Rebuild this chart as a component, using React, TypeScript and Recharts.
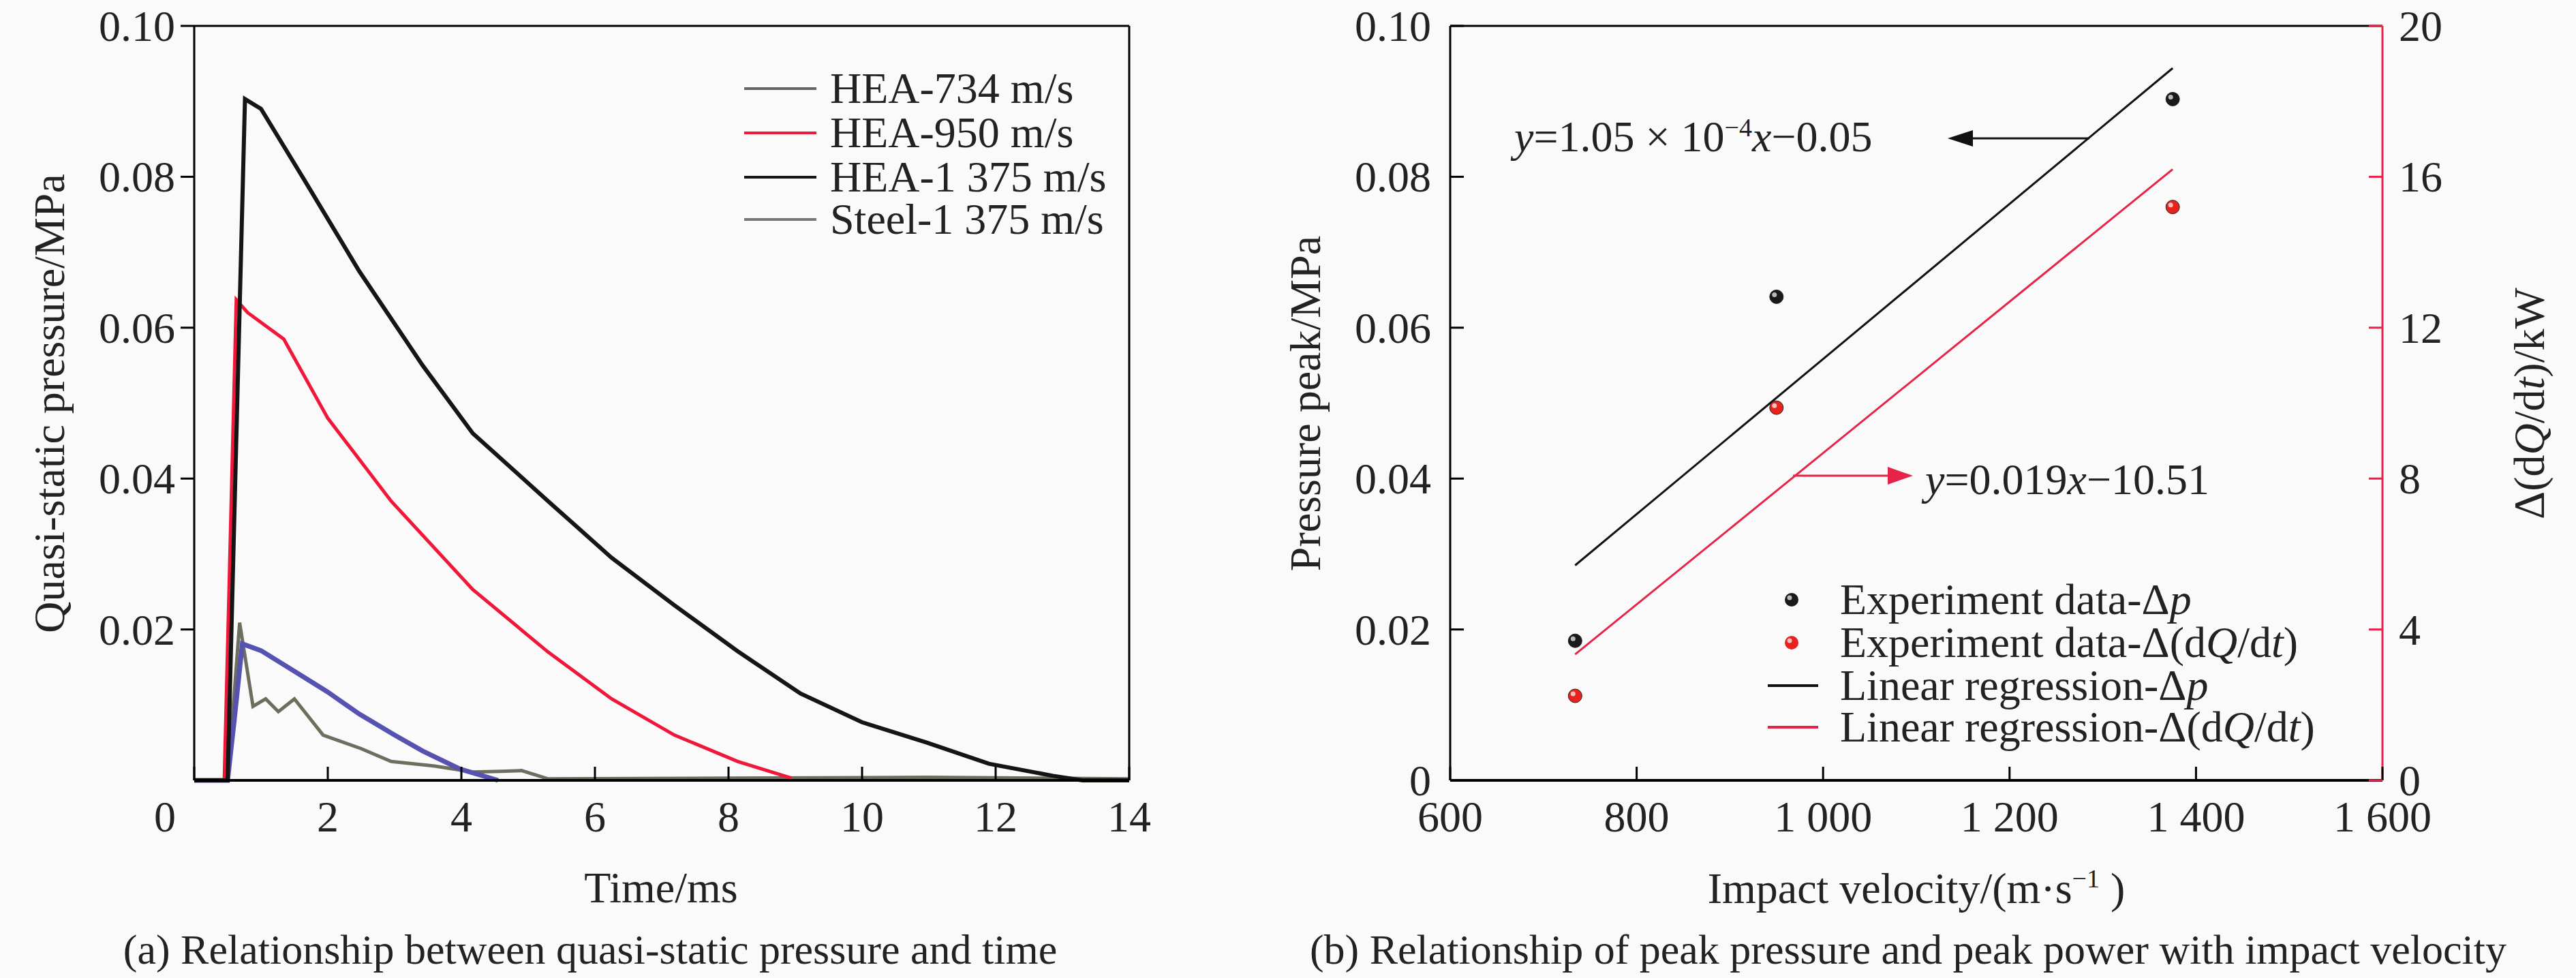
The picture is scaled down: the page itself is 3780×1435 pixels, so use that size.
import React from 'react';
import { ComposedChart, Line, Scatter, XAxis, YAxis } from 'recharts';

const FONT = '"Liberation Serif", "Times New Roman", serif';
const FS = 64;

// Left chart data
const t734 = [0, 0.5, 0.6, 0.72, 1.0, 1.53, 2.0, 2.47, 3.0, 3.42, 3.98, 4.55];
const p734 = [0, 0, 0.008, 0.0181, 0.0172, 0.0143, 0.0117, 0.0088, 0.006, 0.0039, 0.0015, 0];
const t950 = [0, 0.45, 0.63, 0.8, 1.34, 2.0, 2.95, 4.17, 5.3, 6.25, 7.19, 8.14, 8.94];
const p950 = [0, 0, 0.0637, 0.062, 0.0585, 0.048, 0.037, 0.0253, 0.017, 0.0108, 0.006, 0.0025, 0.0003];
const t1375 = [0, 0.5, 0.76, 1.0, 1.62, 2.47, 3.42, 4.17, 5.3, 6.25, 7.19, 8.14, 9.08, 10.0, 10.97, 11.9, 12.86, 13.3, 14];
const p1375 = [0, 0, 0.0903, 0.089, 0.08, 0.0675, 0.055, 0.046, 0.037, 0.0295, 0.0232, 0.0171, 0.0115, 0.0077, 0.005, 0.0022, 0.0006, 0, 0];
const tSteel = [0, 0.5, 0.68, 0.88, 1.07, 1.26, 1.5, 1.93, 2.5, 2.95, 3.6, 4.17, 4.6, 4.9, 5.3, 8, 11, 14];
const pSteel = [0, 0, 0.0209, 0.0098, 0.0108, 0.0091, 0.0108, 0.006, 0.0042, 0.0025, 0.0019, 0.0011, 0.0012, 0.0013, 0.0002, 0.0003, 0.0004, 0.0002];
const leftXTicks = [0, 2, 4, 6, 8, 10, 12, 14];
const leftYTicks = [0.02, 0.04, 0.06, 0.08, 0.1];

// Right chart data
const velocities = [734, 950, 1375];
const peakPressure = [0.0185, 0.0641, 0.0903];
const peakPower = [2.24, 9.88, 15.2];
const regX = [734, 1375];
const regPressure = [0.0285, 0.0944];
const regPower = [3.34, 16.2];
const rightXTicks = [600, 800, 1000, 1200, 1400, 1600];
const rightYTicks = [0, 0.02, 0.04, 0.06, 0.08, 0.1];
const rightY2Ticks = [0, 4, 8, 12, 16, 20];

const zip = (xs: number[], ys: number[]) => xs.map((x, i) => ({ x, y: ys[i] }));
const fmtThousands = (v: number) => (v >= 1000 ? `${Math.floor(v / 1000)} ${String(v % 1000).padStart(3, '0')}` : String(v));

const XTick = (props: any) => {
  const { x, y, payload, fmt, dxFirst, firstVal } = props;
  const v = payload.value;
  const dx = dxFirst && v === firstVal ? dxFirst : 0;
  return (
    <g>
      <line x1={x} y1={y} x2={x} y2={y - 20} stroke="#000" strokeWidth={3} />
      <text x={x + dx} y={y + 75} textAnchor="middle" fontFamily={FONT} fontSize={FS} fill="#222">
        {fmt ? fmt(v) : v}
      </text>
    </g>
  );
};

const YTickLeft = (props: any) => {
  const { x, y, payload, inward, fmt } = props;
  return (
    <g>
      <line x1={x} y1={y} x2={inward ? x + 20 : x - 20} y2={y} stroke="#000" strokeWidth={3} />
      <text x={x - 28} y={y + 22} textAnchor="end" fontFamily={FONT} fontSize={FS} fill="#222">
        {fmt(payload.value)}
      </text>
    </g>
  );
};

const YTickRight = (props: any) => {
  const { x, y, payload } = props;
  return (
    <g>
      <line x1={x} y1={y} x2={x - 20} y2={y} stroke="#e8234a" strokeWidth={3} />
      <text x={x + 24} y={y + 22} textAnchor="start" fontFamily={FONT} fontSize={FS} fill="#222">
        {payload.value}
      </text>
    </g>
  );
};

const Ball = (color: string) => (props: any) => {
  const { cx, cy } = props;
  return (
    <g>
      <circle cx={cx} cy={cy} r={10} fill={color} stroke="#222" strokeWidth={1} />
      <circle cx={cx - 3} cy={cy - 3} r={3.5} fill="#fff" opacity={0.7} />
    </g>
  );
};

const abs = (left: number, top: number, extra: any = {}) => ({
  position: 'absolute' as const,
  left,
  top,
  fontFamily: FONT,
  fontSize: FS,
  color: '#222',
  whiteSpace: 'nowrap' as const,
  lineHeight: 1,
  ...extra,
});

const YW = 80;
const XH = 40;

export default function App() {
  const W1 = 1720;
  const W2 = 1800;
  const H = 1435;
  return (
    <div style={{ position: 'absolute', left: 0, top: 0, width: 3780, height: 1435, background: '#fafafa', overflow: 'hidden' }}>
      {/* Left chart */}
      <div style={{ position: 'absolute', left: 0, top: 0 }}>
        <ComposedChart width={W1} height={H} style={{ overflow: 'visible' }}
          margin={{ top: 37, left: 285 - YW, right: W1 - 1657 - 1, bottom: H - 1145 - XH }}>
          <XAxis xAxisId="b" type="number" dataKey="x" domain={[0, 14]} ticks={leftXTicks} height={XH} tickSize={0} tickMargin={0}
            tickLine={false} axisLine={{ stroke: '#000', strokeWidth: 4 }}
            tick={<XTick firstVal={0} dxFirst={-43} />} />
          <XAxis xAxisId="t" orientation="top" type="number" domain={[0, 14]} height={1} tick={false} tickLine={false}
            axisLine={{ stroke: '#000', strokeWidth: 3 }} />
          <YAxis yAxisId="l" type="number" domain={[0, 0.1]} ticks={leftYTicks} width={YW} tickSize={0} tickMargin={0}
            tickLine={false} axisLine={{ stroke: '#000', strokeWidth: 3 }}
            tick={<YTickLeft fmt={(v: number) => v.toFixed(2)} />} />
          <YAxis yAxisId="r" orientation="right" domain={[0, 0.1]} width={1} tick={false} tickLine={false}
            axisLine={{ stroke: '#000', strokeWidth: 3 }} />
          <Line xAxisId="b" yAxisId="l" data={zip(tSteel, pSteel)} dataKey="y" stroke="#6e6e5e" strokeWidth={5} dot={false} isAnimationActive={false} />
          <Line xAxisId="b" yAxisId="l" data={zip(t734, p734)} dataKey="y" stroke="#5552b0" strokeWidth={7} dot={false} isAnimationActive={false} />
          <Line xAxisId="b" yAxisId="l" data={zip(t950, p950)} dataKey="y" stroke="#f0183a" strokeWidth={5} dot={false} isAnimationActive={false} />
          <Line xAxisId="b" yAxisId="l" data={zip(t1375, p1375)} dataKey="y" stroke="#151515" strokeWidth={6} dot={false} isAnimationActive={false} />
        </ComposedChart>
      </div>

      {/* Left legend */}
      {[
        { label: 'HEA-734 m/s', color: '#666' },
        { label: 'HEA-950 m/s', color: '#f0183a' },
        { label: 'HEA-1 375 m/s', color: '#151515' },
        { label: 'Steel-1 375 m/s', color: '#777' },
      ].map((e, i) => (
        <div key={i} style={abs(1092, [130, 195, 260, 322][i] - 32, { display: 'flex', alignItems: 'center', height: 64 })}>
          <div style={{ width: 106, height: 4, background: e.color, marginRight: 20 }} />
          <span>{e.label}</span>
        </div>
      ))}

      {/* Left axis titles */}
      <div style={abs(73, 592, { transform: 'translate(-50%, -50%) rotate(-90deg)' })}>Quasi-static pressure/MPa</div>
      <div style={abs(970, 1303, { transform: 'translate(-50%, -50%)' })}>Time/ms</div>
      <div style={abs(866, 1393, { transform: 'translate(-50%, -50%)', fontSize: 62 })}>(a) Relationship between quasi-static pressure and time</div>

      {/* Right chart */}
      <div style={{ position: 'absolute', left: 1880, top: 0 }}>
        <ComposedChart width={W2} height={H} style={{ overflow: 'visible' }}
          margin={{ top: 37, left: 2128 - 1880 - YW, right: W2 - (3496 - 1880) - 1, bottom: H - 1145 - XH }}>
          <XAxis xAxisId="b" type="number" dataKey="x" domain={[600, 1600]} ticks={rightXTicks} height={XH} tickSize={0} tickMargin={0}
            tickLine={false} axisLine={{ stroke: '#000', strokeWidth: 4 }}
            tick={<XTick fmt={fmtThousands} />} />
          <XAxis xAxisId="t" orientation="top" type="number" domain={[600, 1600]} height={1} tick={false} tickLine={false}
            axisLine={{ stroke: '#000', strokeWidth: 3 }} />
          <YAxis yAxisId="l" type="number" domain={[0, 0.1]} ticks={rightYTicks} width={YW} tickSize={0} tickMargin={0}
            tickLine={false} axisLine={{ stroke: '#000', strokeWidth: 3 }}
            tick={<YTickLeft inward fmt={(v: number) => (v === 0 ? '0' : v.toFixed(2))} />} />
          <YAxis yAxisId="r" orientation="right" type="number" domain={[0, 20]} ticks={rightY2Ticks} width={1} tickSize={0} tickMargin={0}
            tickLine={false} axisLine={{ stroke: '#e8234a', strokeWidth: 3 }} tick={<YTickRight />} />
          <Line xAxisId="b" yAxisId="l" data={zip(regX, regPressure)} dataKey="y" stroke="#111" strokeWidth={3} dot={false} isAnimationActive={false} />
          <Line xAxisId="b" yAxisId="r" data={zip(regX, regPower)} dataKey="y" stroke="#e8234a" strokeWidth={3} dot={false} isAnimationActive={false} />
          <Scatter xAxisId="b" yAxisId="l" data={zip(velocities, peakPressure)} dataKey="y" shape={Ball('#1a1a1a')} isAnimationActive={false} />
          <Scatter xAxisId="b" yAxisId="r" data={zip(velocities, peakPower)} dataKey="y" shape={Ball('#e8231e')} isAnimationActive={false} />
        </ComposedChart>
      </div>

      {/* Annotations */}
      <svg style={{ position: 'absolute', left: 0, top: 0, pointerEvents: 'none' }} width={3780} height={1435}>
        <line x1={3066} y1={203} x2={2890} y2={203} stroke="#111" strokeWidth={3} />
        <polygon points="2858,203 2895,191 2895,215" fill="#111" />
        <line x1={2631} y1={698} x2={2780} y2={698} stroke="#e8234a" strokeWidth={3} />
        <polygon points="2807,698 2770,685 2770,711" fill="#e8234a" />
        <line x1={2594} y1={1006} x2={2668} y2={1006} stroke="#111" strokeWidth={4} />
        <line x1={2594} y1={1067} x2={2668} y2={1067} stroke="#e8234a" strokeWidth={4} />
        <circle cx={2629} cy={880} r={10} fill="#1a1a1a" />
        <circle cx={2626} cy={877} r={3.5} fill="#fff" opacity={0.7} />
        <circle cx={2629} cy={943} r={10} fill="#e8231e" />
        <circle cx={2626} cy={940} r={3.5} fill="#fff" opacity={0.7} />
      </svg>
      <div style={abs(2222, 168)}>
        <i>y</i>=1.05 × 10<sup style={{ fontSize: 38 }}>−4</sup><i>x</i>−0.05
      </div>
      <div style={abs(2825, 672)}>
        <i>y</i>=0.019<i>x</i>−10.51
      </div>
      {[
        <span>Experiment data-Δ<i>p</i></span>,
        <span>Experiment data-Δ(d<i>Q</i>/d<i>t</i>)</span>,
        <span>Linear regression-Δ<i>p</i></span>,
        <span>Linear regression-Δ(d<i>Q</i>/d<i>t</i>)</span>,
      ].map((el, i) => (
        <div key={i} style={abs(2700, [880, 943, 1006, 1067][i] - 32, { height: 64 })}>{el}</div>
      ))}

      {/* Right axis titles */}
      <div style={abs(1916, 592, { transform: 'translate(-50%, -50%) rotate(-90deg)' })}>Pressure peak/MPa</div>
      <div style={abs(3712, 592, { transform: 'translate(-50%, -50%) rotate(-90deg)' })}>Δ(d<i>Q</i>/d<i>t</i>)/kW</div>
      <div style={abs(2812, 1303, { transform: 'translate(-50%, -50%)' })}>Impact velocity/(m·s<sup style={{ fontSize: 38 }}>−1</sup> )</div>
      <div style={abs(2800, 1393, { transform: 'translate(-50%, -50%)', fontSize: 62 })}>(b) Relationship of peak pressure and peak power with impact velocity</div>
    </div>
  );
}
